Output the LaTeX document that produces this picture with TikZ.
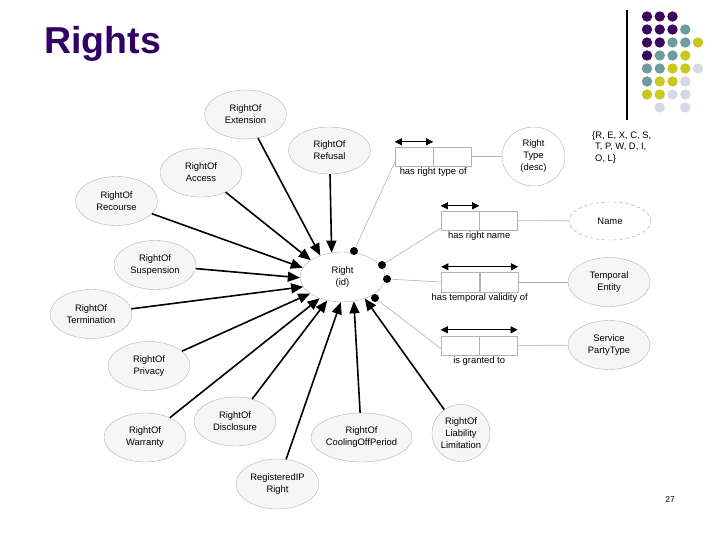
\documentclass[tikz,border=0pt]{standalone}
\usepackage{fontspec}
\setmainfont{Liberation Sans}
\usepackage{xcolor}
\usetikzlibrary{arrows.meta,shapes.geometric,positioning}

\definecolor{titlepurple}{HTML}{330066}
\definecolor{dotpurple}{HTML}{3B0A5E}
\definecolor{dotteal}{HTML}{6E9C9C}
\definecolor{dotolive}{HTML}{C8C81E}
\definecolor{dotlav}{HTML}{D6D8E8}

\begin{document}
\begin{tikzpicture}[x=1pt,y=-1pt,line join=round,
  rnode/.style={ellipse,draw=gray!60,fill=gray!7,minimum width=82pt,minimum height=49pt,
    inner sep=0pt,align=center,font=\fontsize{9.4}{12}\selectfont},
  cell/.style={rectangle,draw=gray!60,minimum width=38pt,minimum height=19pt,inner sep=0pt},
  rel/.style={-{Triangle[length=12pt,width=10pt]},line width=1.6pt},
  link/.style={gray!60,line width=0.6pt},
  span/.style={{Triangle[length=7pt,width=7pt]}-{Triangle[length=7pt,width=7pt]},line width=0.7pt},
  blob/.style={circle,fill=black,inner sep=0pt,minimum size=8pt},
  boxlabel/.style={font=\fontsize{9.4}{12}\selectfont,inner sep=1pt,anchor=north}]
  \useasboundingbox (0,0) rectangle (720,540);

  % ---------- title and slide decoration ----------
  \node[anchor=base west,inner sep=0pt,text=titlepurple,
    font=\fontsize{37.5}{40}\selectfont\bfseries] (title) at (44,54) {Rights};
  \draw[line width=1.2pt] (627,10) -- (627,120);
  \foreach \c/\r/\col in {1/1/dotpurple,2/1/dotpurple,3/1/dotpurple,
      1/2/dotpurple,2/2/dotpurple,3/2/dotpurple,4/2/dotteal,
      1/3/dotpurple,2/3/dotpurple,3/3/dotteal,4/3/dotteal,5/3/dotolive,
      1/4/dotpurple,2/4/dotteal,3/4/dotteal,4/4/dotolive,
      1/5/dotteal,2/5/dotteal,3/5/dotolive,4/5/dotolive,5/5/dotlav,
      1/6/dotteal,2/6/dotolive,3/6/dotolive,4/6/dotlav,
      1/7/dotolive,2/7/dotolive,3/7/dotlav,4/7/dotlav,
      2/8/dotlav,4/8/dotlav}
    \fill[\col] ({634.25+12.75*\c},{3.5+13*\r}) circle (5.2);
  \node[font=\fontsize{8.5}{10}\selectfont] (pageno) at (670,500) {27};

  % ---------- central entity ----------
  \node[rnode,fill=white,minimum width=85pt,minimum height=50pt] (right) at (342.5,277) {Right\\(id)};

  % ---------- kinds of right ----------
  \node[rnode] (ext)        at (245.5,114.5) {RightOf\\Extension};
  \node[rnode,minimum height=47pt] (refusal) at (329.5,150.5) {RightOf\\Refusal};
  \node[rnode] (access)     at (201,172.5)   {RightOf\\Access};
  \node[rnode] (recourse)   at (116.5,201)   {RightOf\\Recourse};
  \node[rnode] (susp)       at (155,265)     {RightOf\\Suspension};
  \node[rnode] (term)       at (91,314)      {RightOf\\Termination};
  \node[rnode] (privacy)    at (149,366)     {RightOf\\Privacy};
  \node[rnode] (warranty)   at (145,437.5)   {RightOf\\Warranty};
  \node[rnode] (disclosure) at (235,421.5)   {RightOf\\Disclosure};
  \node[rnode,minimum width=83pt,minimum height=50pt] (regip) at (277.5,484) {RegisteredIP\\Right};
  \node[rnode,minimum width=101pt] (cooling) at (361.5,437.5) {RightOf\\CoolingOffPeriod};
  \node[rnode,minimum width=58pt,minimum height=57pt] (liability) at (461,433)
    {RightOf\\Liability\\Limitation};

  \draw[rel] (refusal)    -- (right.114);
  \draw[rel] (ext)        -- (right.136);
  \draw[rel] (access)     -- (right.152);
  \draw[rel] (recourse)   -- (right.167);
  \draw[rel] (susp)       -- (right.181);
  \draw[rel] (term)       -- (right.194);
  \draw[rel] (privacy)    -- (right.207);
  \draw[rel] (warranty)   -- (right.223);
  \draw[rel] (disclosure) -- (right.237);
  \draw[rel] (regip)      -- (right.266);
  \draw[rel] (cooling)    -- (right.295);
  \draw[rel] (liability)  -- (right.316);

  % ---------- attributes and relations ----------
  \node[rnode,fill=white,minimum width=63pt,minimum height=59pt] (rtype) at (533.5,156.5) {Right\\Type\\(desc)};
  \node[rnode,fill=white,draw=gray!80,dashed,minimum height=38pt] (name) at (610,221) {Name};
  \node[rnode] (temporal) at (609,282) {Temporal\\Entity};
  \node[rnode] (service)  at (609,345) {Service\\PartyType};
  \node[anchor=north west,align=left,inner sep=0pt,font=\fontsize{9.4}{11.5}\selectfont] (codes)
    at (592,131) {\{R, E, X, C, S,\\\hspace*{3pt}T, P, W, D, I,\\\hspace*{3pt}O, L\}};

  % has right type of
  \node[cell] (typeL) at (414,156.5) {};
  \node[cell,right=0pt of typeL] (typeR) {};
  \node[boxlabel] (typelab) at (typeL.south east) {has right type of};
  \draw[span] ([yshift=5pt]typeL.north west) -- ([yshift=5pt]typeL.north east);
  \draw[link] (typeR) -- (rtype);

  % has right name
  \node[cell] (nameL) at (460,220.5) {};
  \node[cell,right=0pt of nameL] (nameR) {};
  \node[boxlabel] (namelab) at (nameL.south east) {has right name};
  \draw[span] ([yshift=5pt]nameL.north west) -- ([yshift=5pt]nameL.north east);
  \draw[link] (nameR) -- (name);

  % has temporal validity of
  \node[cell,minimum height=20pt] (tempL) at (460.5,282) {};
  \node[cell,minimum height=20pt,right=0pt of tempL] (tempR) {};
  \node[boxlabel] (templab) at (tempL.south east) {has temporal validity of};
  \draw[span] ([yshift=5pt]tempL.north west) -- ([yshift=5pt]tempR.north east);
  \draw[link] (tempR) -- (temporal);

  % is granted to
  \node[cell] (grantL) at (460,345.5) {};
  \node[cell,right=0pt of grantL] (grantR) {};
  \node[boxlabel] (grantlab) at (grantL.south east) {is granted to};
  \draw[span] ([yshift=6pt]grantL.north west) -- ([yshift=6pt]grantR.north east);
  \draw[link] (grantR) -- (service);

  % ---------- cardinality dots on the central entity ----------
  \node[blob] (dtype)  at (354,251) {};
  \node[blob] (dname)  at (382,265) {};
  \node[blob] (dtemp)  at (387,279) {};
  \node[blob] (dgrant) at (375,298) {};
  \draw[link] (dtype)  -- ([yshift=4pt]typeL.south west);
  \draw[link] (dname)  -- ([yshift=2pt]nameL.south west);
  \draw[link] (dtemp)  -- (tempL.west);
  \draw[link] (dgrant) -- ([yshift=-3pt]grantL.west);
\end{tikzpicture}
\end{document}
